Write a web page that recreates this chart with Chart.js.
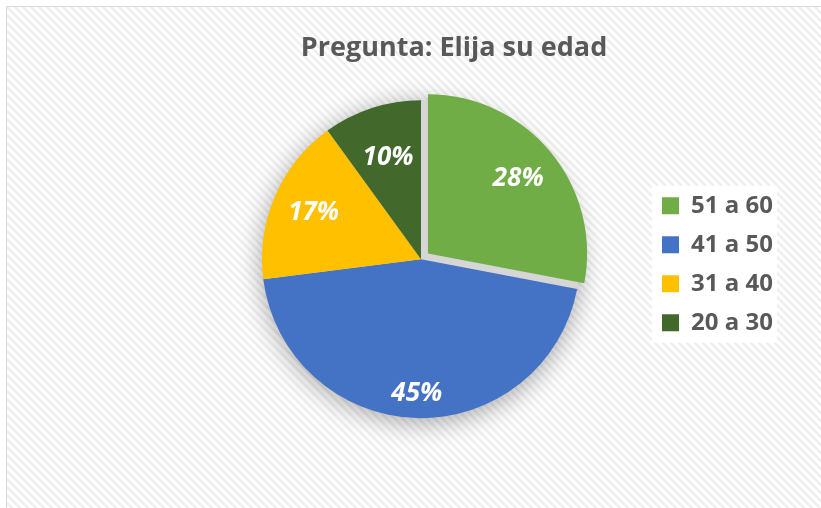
<!DOCTYPE html>
<html>
<head>
<meta charset="utf-8">
<script src="https://cdn.jsdelivr.net/npm/chart.js@4/dist/chart.umd.min.js"></script>
<style>
  body { margin: 0; background: #fff; }
</style>
</head>
<body>
<canvas id="pieEdad" width="821" height="508"></canvas>
<script>
const labels = ['51 a 60', '41 a 50', '31 a 40', '20 a 30'];
const values = [28, 45, 17, 10];
const colors = [
  '#70AD47', // light green
  '#4472C4', // blue
  '#FFC000', // gold
  '#43682B'  // dark green
];

// how far in each % label sits (fraction of radius)
const labelRadius = [0.737, 0.843, 0.736, 0.671];

Chart.defaults.font.family = "'Open Sans', sans-serif";

// hatched frame + white box behind the legend
const backdrop = {
  id: 'backdrop',
  afterLayout(chart) {
    // legend reserves a narrow slot (keeps the title centred like the original),
    // but it may draw out to the right edge
    const lg = chart.legend;
    lg.right = chart.width;
    lg.width = lg.right - lg.left;
  },
  beforeDraw(chart) {
    const { ctx, width, height } = chart;
    const tile = document.createElement('canvas');
    tile.width = 8;
    tile.height = 8;
    const t = tile.getContext('2d');
    t.fillStyle = '#ffffff';
    t.fillRect(0, 0, 8, 8);
    t.strokeStyle = '#efefef';
    t.lineWidth = 2.5;
    [-8, 0, 8].forEach(k => {
      t.beginPath();
      t.moveTo(k - 1, -1);
      t.lineTo(k + 9, 9);
      t.stroke();
    });

    ctx.save();
    ctx.fillStyle = '#ffffff';
    ctx.fillRect(0, 0, width, height);
    ctx.fillStyle = ctx.createPattern(tile, 'repeat');
    ctx.fillRect(6, 6, width - 6, height - 6);
    ctx.strokeStyle = '#d9d9d9';
    ctx.lineWidth = 1;
    ctx.beginPath();
    ctx.moveTo(6.5, height);
    ctx.lineTo(6.5, 6.5);
    ctx.lineTo(width, 6.5);
    ctx.stroke();

    const hb = chart.legend.legendHitBoxes;
    if (hb && hb.length) {
      const left = hb[0].left - 10;
      const top = hb[0].top - 8;
      const last = hb[hb.length - 1];
      const w = Math.max(...hb.map(h => h.width)) + 14;
      ctx.fillStyle = '#ffffff';
      ctx.fillRect(left, top, w, last.top + last.height + 8 - top);
    }
    ctx.restore();
  }
};

// soft shadow under the pie
const pieShadow = {
  id: 'pieShadow',
  beforeDatasetsDraw(chart) {
    const arc = chart.getDatasetMeta(0).data[0];
    if (!arc) return;
    const { x, y, outerRadius } = arc.getProps(['x', 'y', 'outerRadius'], true);
    const ctx = chart.ctx;
    ctx.save();
    ctx.shadowColor = 'rgba(0, 0, 0, 0.35)';
    ctx.shadowBlur = 26;
    ctx.shadowOffsetY = 4;
    ctx.fillStyle = '#d6d6d6';
    ctx.beginPath();
    ctx.arc(x, y, outerRadius, 0, Math.PI * 2);
    ctx.fill();
    ctx.restore();
  }
};

// percentage labels inside the slices
const sliceLabels = {
  id: 'sliceLabels',
  afterDatasetsDraw(chart) {
    const ctx = chart.ctx;
    const meta = chart.getDatasetMeta(0);
    const data = chart.data.datasets[0].data;
    const total = data.reduce((acc, v) => acc + v, 0);
    ctx.save();
    ctx.fillStyle = '#ffffff';
    ctx.font = "italic bold 26px 'Open Sans', sans-serif";
    ctx.textAlign = 'center';
    ctx.textBaseline = 'middle';
    meta.data.forEach((arc, i) => {
      const { x, y, startAngle, endAngle, outerRadius } =
        arc.getProps(['x', 'y', 'startAngle', 'endAngle', 'outerRadius'], true);
      const mid = (startAngle + endAngle) / 2;
      const r = (arc.options.offset || 0) / 4 + outerRadius * labelRadius[i];
      const pct = Math.round(data[i] / total * 100) + '%';
      ctx.fillText(pct, x + Math.cos(mid) * r, y + Math.sin(mid) * r);
    });
    ctx.restore();
  }
};

const ctx = document.getElementById('pieEdad').getContext('2d');
const pieEdad = new Chart(ctx, {
  type: 'pie',
  data: {
    labels: labels,
    datasets: [{
      data: values,
      backgroundColor: colors,
      borderWidth: 0,
      offset: [36, 0, 0, 0]
    }]
  },
  options: {
    responsive: false,
    animation: false,
    events: [],
    radius: 159,
    layout: {
      padding: { left: 195, right: 108, top: 0, bottom: 86 }
    },
    plugins: {
      title: {
        display: true,
        text: 'Pregunta: Elija su edad',
        color: '#595959',
        font: { size: 27, weight: 'bold' },
        padding: { top: 32, bottom: 32 }
      },
      legend: {
        position: 'right',
        fullSize: false,
        maxWidth: 66,
        title: {
          display: true,
          text: '',
          font: { size: 10, lineHeight: 1 },
          padding: 0
        },
        labels: {
          boxWidth: 17,
          boxHeight: 17,
          padding: 15,
          color: '#595959',
          font: { size: 24, weight: 'bold' }
        }
      },
      tooltip: { enabled: false }
    }
  },
  plugins: [backdrop, pieShadow, sliceLabels]
});
</script>
</body>
</html>
